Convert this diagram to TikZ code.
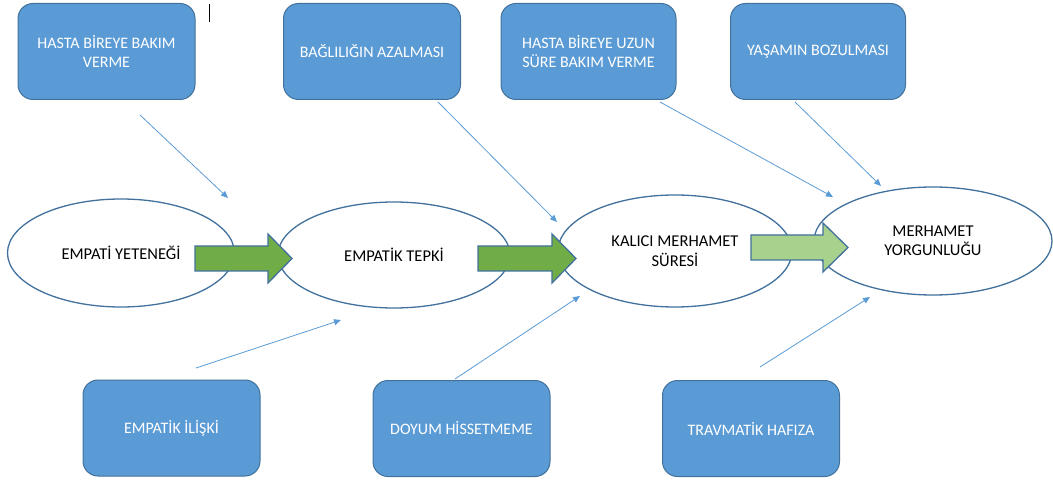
\documentclass[tikz,border=0pt]{standalone}
\usepackage{fontspec}
\setmainfont{Carlito}
\usetikzlibrary{shapes.geometric,arrows.meta}
\definecolor{boxfill}{HTML}{5B9BD5}
\definecolor{boxline}{HTML}{41719C}
\definecolor{darkgreen}{HTML}{70AD47}
\definecolor{lightgreen}{HTML}{A9D18E}
\definecolor{conn}{HTML}{5B9BD5}
\tikzset{
  factorbox/.style={draw=boxline, fill=boxfill, line width=1pt, rounded corners=15pt,
    minimum width=177pt, minimum height=96pt, text=white, align=center,
    font=\fontsize{16}{19}\selectfont, inner sep=0pt},
  stage/.style={ellipse, draw=boxline, fill=white, line width=1.3pt, align=center,
    font=\fontsize{16.5}{19.5}\selectfont, inner sep=0pt},
  blockarrow/.style={draw=boxline, line width=1.3pt, line join=miter},
  influence/.style={draw=conn, line width=0.8pt, -{Triangle[length=7pt,width=6pt]}}
}
\begin{document}
\begin{tikzpicture}[x=1pt,y=-1pt]
\useasboundingbox (0,0) rectangle (1053,481);
% top boxes
\node[factorbox] (t1) at (106.5,51.5) {HASTA BİREYE BAKIM\\VERME};
\node[factorbox] (t2) at (372,51.5) {BAĞLILIĞIN AZALMASI};
\node[factorbox, minimum width=175pt] (t3) at (588.5,51.5) {HASTA BİREYE UZUN\\SÜRE BAKIM VERME};
\node[factorbox, minimum width=175pt] (t4) at (818,51.5) {YAŞAMIN BOZULMASI};
% bottom boxes
\node[factorbox] (b1) at (171.5,428) {EMPATİK İLİŞKİ};
\node[factorbox] (b2) at (461.5,428.5) {DOYUM HİSSETMEME};
\node[factorbox] (b3) at (751,428.5) {TRAVMATİK HAFIZA};
% stages
\node[stage, minimum width=227pt, minimum height=108pt] (e1) at (121,253) {EMPATİ YETENEĞİ};
\node[stage, minimum width=232pt, minimum height=106pt] (e2) at (394,255) {EMPATİK TEPKİ};
\node[stage, minimum width=234pt, minimum height=112pt] (e3) at (675,251) {KALICI MERHAMET\\SÜRESİ};
\node[stage, minimum width=238pt, minimum height=108pt] (e4) at (933,241) {MERHAMET\\YORGUNLUĞU};
% block arrows between stages
\draw[blockarrow, fill=darkgreen] (195,246) -- (268,246) -- (268,234) -- (292,258.5) -- (268,283) -- (268,271) -- (195,271) -- cycle;
\draw[blockarrow, fill=darkgreen] (478,246) -- (552,246) -- (552,234) -- (576,258.5) -- (552,283) -- (552,271) -- (478,271) -- cycle;
\draw[blockarrow, fill=lightgreen] (751,235) -- (823,235) -- (823,223) -- (848,247.5) -- (823,272) -- (823,260) -- (751,260) -- cycle;
% connector end points
\coordinate (s1) at (140,115); \coordinate (d1) at (228,198);
\coordinate (s2) at (438,102); \coordinate (d2) at (557,222);
\coordinate (s3) at (660,102); \coordinate (d3) at (833,197);
\coordinate (s4) at (795,102); \coordinate (d4) at (881,186);
\coordinate (s5) at (196,368); \coordinate (d5) at (341,320);
\coordinate (s6) at (455,379); \coordinate (d6) at (580,296);
\coordinate (s7) at (760,367); \coordinate (d7) at (870,297);
\draw[influence] (s1) -- (d1);
\draw[influence] (s2) -- (d2);
\draw[influence] (s3) -- (d3);
\draw[influence] (s4) -- (d4);
\draw[influence] (s5) -- (d5);
\draw[influence] (s6) -- (d6);
\draw[influence] (s7) -- (d7);
% text cursor mark
\coordinate (c1) at (209,4); \coordinate (c2) at (209,22);
\draw[black, line width=0.9pt] (c1) -- (c2);
\end{tikzpicture}
\end{document}
